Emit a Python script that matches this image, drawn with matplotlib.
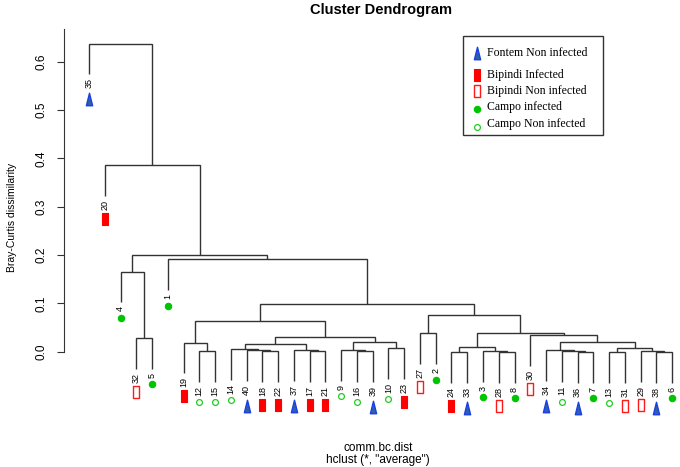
import matplotlib
matplotlib.use('Agg')
import matplotlib.pyplot as plt
from matplotlib.transforms import offset_copy
from matplotlib.patches import Rectangle
from matplotlib.lines import Line2D
from matplotlib.path import Path
import logging
logging.getLogger('matplotlib.font_manager').setLevel(logging.ERROR)

# ---------------- data (R hclust-style merge table) ----------------
# negative = single sample id, positive = earlier merge step (1-based)
merge_left = [-18, -40, -14, -17, -37, 3, -12, -19, -16, -9, -10, 10, 6, 8,
              -24, -28, -3, 15, -36, -11, -34, -13, -38, -29, 22, 21, -30, 18,
              -27, 29, 14, -1, -32, -4, 34, -20, -35]
merge_right = [-22, 1, 2, -21, 4, 5, -15, 7, -39, 9, -23, 11, 12, 13,
               -33, -8, 16, 17, -7, 19, 20, -31, -6, 23, 24, 25, 26, 27,
               -2, 28, 30, 31, -5, 33, 32, 35, 36]
merge_height = [0.001, 0.003, 0.005, 0.002, 0.004, 0.016, 0.002, 0.019, 0.001, 0.004,
                0.007, 0.020, 0.031, 0.064, 0.000, 0.000, 0.002, 0.010, 0.000, 0.002,
                0.004, 0.000, 0.000, 0.001, 0.008, 0.020, 0.035, 0.038, 0.038, 0.077,
                0.099, 0.192, 0.029, 0.166, 0.201, 0.386, 0.638]

group_names = ['Fontem Non infected', 'Bipindi Infected', 'Bipindi Non infected',
               'Campo infected', 'Campo Non infected']
sample_ids = [1, 2, 3, 4, 5, 6, 7, 8, 9, 10, 11, 12, 13, 14, 15, 16, 17, 18, 19, 20,
              21, 22, 23, 24, 27, 28, 29, 30, 31, 32, 33, 34, 35, 36, 37, 38, 39, 40]
sample_group = [3, 3, 3, 3, 3, 3, 3, 3, 4, 4, 4, 4, 4, 4, 4, 4, 1, 1, 1, 1,
                1, 1, 1, 1, 2, 2, 2, 2, 2, 2, 0, 0, 0, 0, 0, 0, 0, 0]
yticks = [0.0, 0.1, 0.2, 0.3, 0.4, 0.5, 0.6]

# ---------------- styles ----------------
tri = Path([(-0.25, -0.5), (0.25, -0.5), (0.0, 0.5), (-0.25, -0.5)], closed=True)
rect = Path([(-0.24, -0.5), (0.24, -0.5), (0.24, 0.5), (-0.24, 0.5), (-0.24, -0.5)], closed=True)
grp_style = [
    dict(marker=tri, ms=9.0, mfc='#2e5fa8', mec='#1a3fe6', mew=1.0, off=25),
    dict(marker=rect, ms=8.6, mfc='#ff0000', mec='#ff0000', mew=0.8, off=23),
    dict(marker=rect, ms=8.6, mfc='white', mec='#ff1a1a', mew=1.0, off=23),
    dict(marker='o', ms=4.6, mfc='#00c400', mec='#00c400', mew=0.8, off=20),
    dict(marker='o', ms=4.2, mfc='white', mec='#22cc22', mew=0.9, off=20),
]
group_of = dict(zip(sample_ids, sample_group))

W, H, DPI = 680, 467, 100
fig = plt.figure(figsize=(W / DPI, H / DPI), dpi=DPI)

px_x0, px_dx = 89.0, 15.76
px_y0, px_per = 351.7, 483.0
ax_l, ax_r, ax_t, ax_b = 64, 680, 29, 430
ax = fig.add_axes([ax_l / W, (H - ax_b) / H, (ax_r - ax_l) / W, (ax_b - ax_t) / H])
ax.set_xlim(1 + (ax_l - px_x0) / px_dx, 1 + (ax_r - px_x0) / px_dx)
ax.set_ylim((px_y0 - ax_b) / px_per, (px_y0 - ax_t) / px_per)

# leaf order
def order(ref):
    if ref < 0:
        return [-ref]
    i = ref - 1
    return order(merge_left[i]) + order(merge_right[i])

root = len(merge_height)
leaf_order = order(root)
leaf_x = {lid: k + 1 for k, lid in enumerate(leaf_order)}
hang = 0.1 * max(merge_height)

node_x = {}
leaf_end = {}
lc = '#333333'
lw = 1.0
for i in range(len(merge_height)):
    h = merge_height[i]
    xs, ys = [], []
    for ref in (merge_left[i], merge_right[i]):
        if ref < 0:
            x = leaf_x[-ref]
            y = h - hang
            leaf_end[-ref] = y
        else:
            x = node_x[ref]
            y = merge_height[ref - 1]
        xs.append(x)
        ys.append(y)
    node_x[i + 1] = (xs[0] + xs[1]) / 2
    ax.plot([xs[0], xs[0], xs[1], xs[1]], [ys[0], h, h, ys[1]], color=lc, lw=lw,
            solid_joinstyle='miter', solid_capstyle='butt')

narrow = ['Liberation Sans Narrow', 'Liberation Sans', 'DejaVu Sans']
for lid in leaf_order:
    x, y = leaf_x[lid], leaf_end[lid]
    tr = offset_copy(ax.transData, fig=fig, x=0, y=-4, units='dots')
    ax.text(x, y, str(lid), transform=tr, rotation=90, ha='center', va='top',
            fontsize=6.5, family=narrow, clip_on=False)
    st = grp_style[group_of[lid]]
    off = st['off'] - (4.2 if lid < 10 else 0)
    trm = offset_copy(ax.transData, fig=fig, x=0, y=-off, units='dots')
    ax.plot([x], [y], linestyle='none', marker=st['marker'], ms=st['ms'], mfc=st['mfc'],
            mec=st['mec'], mew=st['mew'], transform=trm, clip_on=False)

for s in ['top', 'right', 'bottom']:
    ax.spines[s].set_visible(False)
ax.spines['left'].set_bounds(0, (px_y0 - ax_t) / px_per)
ax.spines['left'].set_color('#333333')
ax.set_xticks([])
ax.set_yticks(yticks)
ax.set_yticklabels([f'{v:.1f}' for v in yticks], rotation=90, va='center', family=narrow)
ax.tick_params(axis='y', length=5, width=0.8, pad=7.2, labelsize=8.5, color='#333333')

fig.text(12 / W, 1 - 217 / H, 'Bray-Curtis dissimilarity', rotation=90, ha='center', va='center',
         fontsize=7.5, family=narrow)
fig.text(381 / W, 1 - 10 / H, 'Cluster Dendrogram', ha='center', va='center',
         fontsize=10.5, fontweight='bold', family=['Liberation Sans', 'DejaVu Sans'])
fig.text(378 / W, 1 - 448 / H, 'comm.bc.dist', ha='center', va='center', fontsize=8.5,
         family=['Liberation Sans', 'DejaVu Sans'])
fig.text(378 / W, 1 - 460 / H, 'hclust (*, "average")', ha='center', va='center', fontsize=8.5,
         family=['Liberation Sans', 'DejaVu Sans'])

# legend (manual, R style)
fig.patches.append(Rectangle((463 / W, 1 - 135 / H), (603 - 463) / W, (135 - 36) / H,
                             transform=fig.transFigure, fill=False, ec='#333333', lw=1.0))
text_y = [53, 75, 91, 107, 124]
mark_y = [53, 75, 91, 109, 127]
for g, name in enumerate(group_names):
    st = grp_style[g]
    fig.lines.append(Line2D([477 / W], [1 - mark_y[g] / H], transform=fig.transFigure,
                            linestyle='none', marker=st['marker'], ms=st['ms'], mfc=st['mfc'],
                            mec=st['mec'], mew=st['mew']))
    fig.text(487 / W, 1 - text_y[g] / H, name, ha='left', va='center', fontsize=8.5,
             family=['Liberation Serif', 'DejaVu Serif'])

fig.savefig('out.png', dpi=DPI)
